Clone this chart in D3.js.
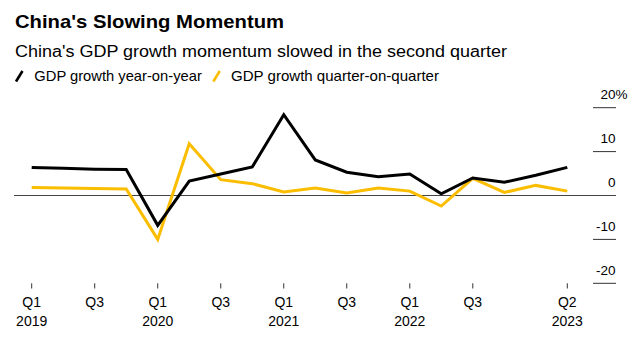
<!DOCTYPE html>
<html><head><meta charset="utf-8">
<script src="https://cdn.jsdelivr.net/npm/d3@7"></script>
<style>
body{margin:0;background:#fff;}
svg{display:block;font-family:"Liberation Sans",Arial,sans-serif;}
</style></head>
<body>
<svg id="c" width="640" height="338"></svg>
<script>
const quarters = ["2019Q1","2019Q2","2019Q3","2019Q4","2020Q1","2020Q2","2020Q3","2020Q4","2021Q1","2021Q2","2021Q3","2021Q4","2022Q1","2022Q2","2022Q3","2022Q4","2023Q1","2023Q2"];
const yoy = [6.4,6.2,6.0,5.9,-6.8,3.3,4.9,6.5,18.4,8.1,5.3,4.3,4.9,0.4,4.0,3.0,4.6,6.4];
const qoq = [1.8,1.7,1.6,1.5,-10.0,11.8,3.6,2.7,0.8,1.7,0.6,1.7,1.0,-2.4,3.9,0.7,2.3,1.0];
const xTickIdx = [0,2,4,6,8,10,12,14,17];
const xTickTop = ["Q1","Q3","Q1","Q3","Q1","Q3","Q1","Q3","Q2"];
const xTickBottom = ["2019","","2020","","2021","","2022","","2023"];
const yTicks = [20,10,0,-10,-20];
const seriesNames = ["GDP growth year-on-year","GDP growth quarter-on-quarter"];
const colors = ["#000000","#fbbd00"];

const svg = d3.select("#c");
const x = d3.scaleLinear().domain([0,17]).range([31.7,567.3]);
const y = d3.scaleLinear().domain([-20,20]).range([283.3,107.7]);

function fit(sel, target){
  sel.attr("textLength", target).attr("lengthAdjust","spacingAndGlyphs");
  return sel;
}

fit(svg.append("text").attr("x",15).attr("y",27.7).attr("font-size",19).attr("font-weight",700).attr("fill","#000").text("China's Slowing Momentum"),269);
fit(svg.append("text").attr("x",15).attr("y",56.7).attr("font-size",17.3).attr("fill","#000").text("China's GDP growth momentum slowed in the second quarter"),492);

// legend
const leg = [{x:15,tx:34.3,w:167.5},{x:212.3,tx:231,w:208}];
leg.forEach((l,i)=>{
  svg.append("line").attr("x1",l.x+1).attr("y1",81.5).attr("x2",l.x+7.5).attr("y2",71).attr("stroke",colors[i]).attr("stroke-width",2.6);
  fit(svg.append("text").attr("x",l.tx).attr("y",81).attr("font-size",14.3).attr("fill","#000").text(seriesNames[i]),l.w);
});

// y axis
yTicks.forEach(t=>{
  if(t!==0) svg.append("line").attr("x1",593).attr("x2",616).attr("y1",y(t)).attr("y2",y(t)).attr("stroke","#333").attr("stroke-width",1);
  const tx = svg.append("text").attr("x",615.5).attr("y",y(t)-8.4).attr("text-anchor","end").attr("font-size",13.5).attr("fill","#000").text(t);
  if(t===20){
    const w = tx.node().getComputedTextLength();
    tx.attr("text-anchor","start").attr("x",615.5-w).text("20%");
  }
});
svg.append("line").attr("x1",14).attr("x2",616).attr("y1",y(0)).attr("y2",y(0)).attr("stroke","#444").attr("stroke-width",1);

// x axis
xTickIdx.forEach((q,i)=>{
  svg.append("line").attr("x1",x(q)).attr("x2",x(q)).attr("y1",283.3).attr("y2",288.5).attr("stroke","#333").attr("stroke-width",1);
  svg.append("text").attr("x",x(q)).attr("y",307.3).attr("text-anchor","middle").attr("font-size",14).attr("fill","#000").text(xTickTop[i]);
  if(xTickBottom[i]) svg.append("text").attr("x",x(q)).attr("y",325.7).attr("text-anchor","middle").attr("font-size",14).attr("fill","#000").text(xTickBottom[i]);
});

const line = d3.line().x((d,i)=>x(i)).y(d=>y(d));
svg.append("path").datum(qoq).attr("d",line).attr("fill","none").attr("stroke",colors[1]).attr("stroke-width",3).attr("stroke-linejoin","miter");
svg.append("path").datum(yoy).attr("d",line).attr("fill","none").attr("stroke",colors[0]).attr("stroke-width",3).attr("stroke-linejoin","miter");
</script>
</body></html>
